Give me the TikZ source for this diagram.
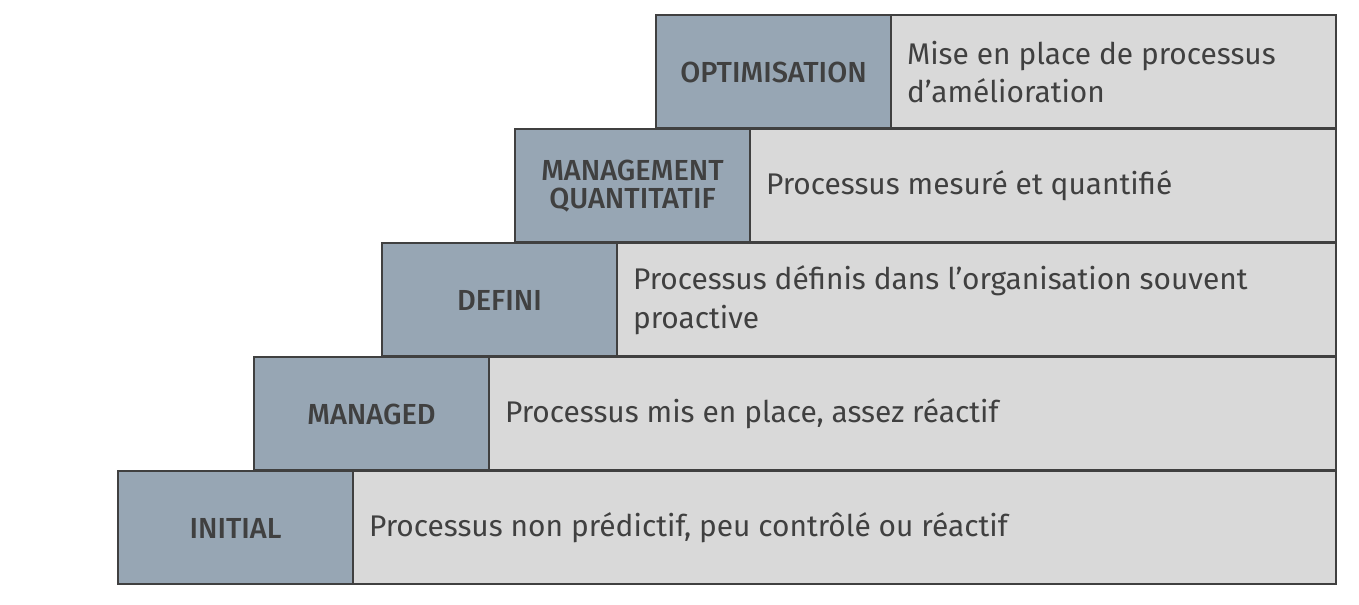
\documentclass[tikz,border=0pt]{standalone}
\usepackage{fontspec}
\setmainfont{Fira Sans}
\newfontfamily\medfont{Fira Sans Medium}
\definecolor{dk}{HTML}{97A6B4}
\definecolor{lt}{HTML}{D9D9D9}
\definecolor{tx}{HTML}{404040}
\begin{document}
\begin{tikzpicture}[x=0.02cm,y=-0.02cm,
  lvl/.style={draw=tx,line width=1.2pt,fill=dk,text=tx,font=\medfont\fontsize{16.5}{15.5}\selectfont,align=center,inner sep=0pt},
  dsc/.style={draw=tx,line width=1.2pt,fill=lt,text=tx,font=\fontsize{17}{22}\selectfont,align=left,inner sep=0pt}]
\useasboundingbox (0,0) rectangle (1359,605);
\foreach \n/\xa/\ya/\lab/\d in {
 e/656/15/OPTIMISATION/{Mise en place de processus\\d’amélioration},
 d/515/129/{MANAGEMENT\\QUANTITATIF}/{Processus mesuré et quantifié},
 c/382/243/DEFINI/{Processus définis dans l’organisation souvent\\proactive},
 b/254/357/MANAGED/{Processus mis en place, assez réactif},
 a/118/471/INITIAL/{Processus non prédictif, peu contrôlé ou réactif}}{
 \pgfmathsetmacro\xb{\xa+235}
 \pgfmathsetmacro\yb{\ya+113}
 \path[dsc] (\xb,\ya) rectangle (1336,\yb);
 \path[lvl] (\xa,\ya) rectangle (\xb,\yb);
 \node[lvl,draw=none,fill=none] (l\n) at ({(\xa+\xb)/2},{\ya+57}) {\lab};
 \node[dsc,draw=none,fill=none,anchor=west] (t\n) at (\xb+15,{\ya+57}) {\d};
}
\end{tikzpicture}
\end{document}
